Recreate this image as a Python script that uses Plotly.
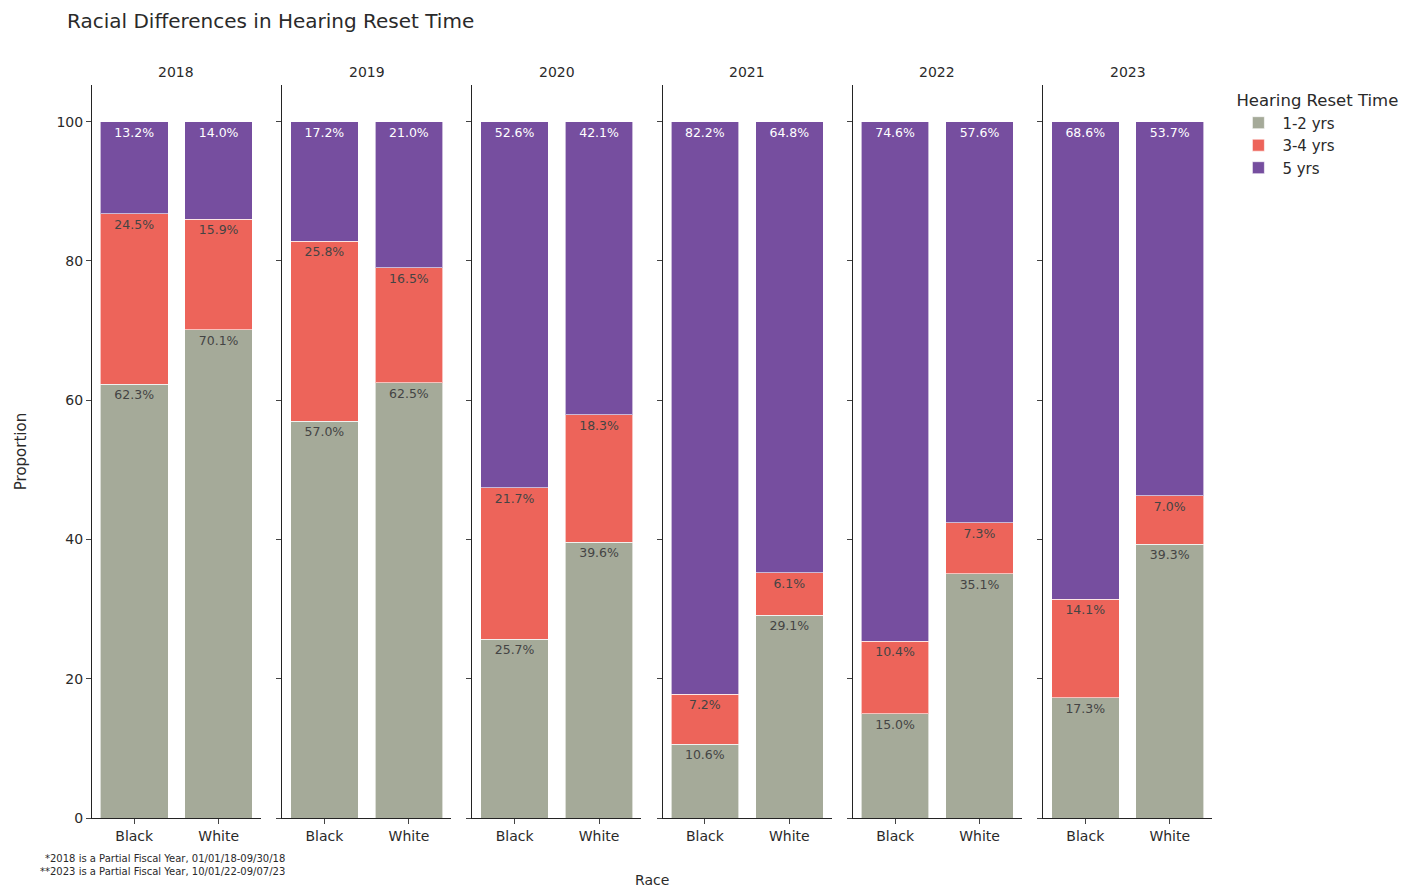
import plotly.graph_objects as go
from plotly.subplots import make_subplots

years = ["2018", "2019", "2020", "2021", "2022", "2023"]
races = ["Black", "White"]
series_names = ["1-2 yrs", "3-4 yrs", "5 yrs"]
# values per year: [Black, White]
yrs_1_2 = [[62.3, 70.1], [57.0, 62.5], [25.7, 39.6], [10.6, 29.1], [15.0, 35.1], [17.3, 39.3]]
yrs_3_4 = [[24.5, 15.9], [25.8, 16.5], [21.7, 18.3], [7.2, 6.1], [10.4, 7.3], [14.1, 7.0]]
yrs_5 = [[13.2, 14.0], [17.2, 21.0], [52.6, 42.1], [82.2, 64.8], [74.6, 57.6], [68.6, 53.7]]
colors = ["rgb(165,170,153)", "rgb(237,100,90)", "rgb(118,78,159)"]

FONT = "Verdana, DejaVu Sans, sans-serif"

fig = make_subplots(rows=1, cols=len(years), shared_yaxes=True,
                    horizontal_spacing=0.019, subplot_titles=years)

all_series = [yrs_1_2, yrs_3_4, yrs_5]
for i, yr in enumerate(years):
    for s, (name, data, col) in enumerate(zip(series_names, all_series, colors)):
        vals = data[i]
        fig.add_trace(go.Bar(
            x=races, y=vals, name=name, legendgroup=name, showlegend=(i == 0),
            marker=dict(color=col, line=dict(color="rgba(255,255,255,0.6)", width=1)),
            text=[f"{v:.1f}%" for v in vals], textposition="inside",
            insidetextanchor="end", textfont=dict(size=12.5, family=FONT),
            hovertemplate="%{x}: %{y}<extra>" + name + "</extra>",
        ), row=1, col=i + 1)

fig.update_layout(
    template="simple_white",
    barmode="stack", bargap=0.2,
    width=1405, height=882,
    margin=dict(l=82, r=201, t=77, b=72),
    font=dict(family=FONT, size=14, color="#2a2a2a"),
    title=dict(text="Racial Differences in Hearing Reset Time", x=0.042, xanchor="left",
               y=1.0, yanchor="top", yref="container", pad=dict(t=6),
               font=dict(size=20, family=FONT)),
    legend=dict(title=dict(text="Hearing Reset Time", font=dict(size=16.5)),
                x=1.02, y=1.0, xanchor="left", yanchor="top",
                font=dict(size=15), tracegroupgap=0, itemwidth=38),
    uniformtext=dict(minsize=8, mode="show"),
)
for ann in fig.layout.annotations:
    ann.font = dict(size=14, family=FONT)
    ann.y = 1.0
    ann.yshift = 3

fig.update_yaxes(range=[0, 105.26], tickvals=[0, 20, 40, 60, 80, 100], ticks="outside",
                 showline=True, showgrid=False)
fig.update_yaxes(title_text="Proportion", title_standoff=26, title_font=dict(size=15), row=1, col=1)
fig.update_xaxes(ticks="outside", showline=True, tickfont=dict(size=14))

fig.add_annotation(text="Race", xref="paper", yref="paper", x=0.5, y=0, yshift=-62,
                   showarrow=False, font=dict(size=14, family=FONT), yanchor="middle")
fig.add_annotation(text="*2018 is a Partial Fiscal Year, 01/01/18-09/30/18<br>**2023 is a Partial Fiscal Year, 10/01/22-09/07/23",
                   xref="paper", yref="paper", x=0.174, xanchor="right", y=0, yshift=-33,
                   yanchor="top", align="right", showarrow=False,
                   font=dict(size=10, family=FONT))

fig.write_html("out.html")
